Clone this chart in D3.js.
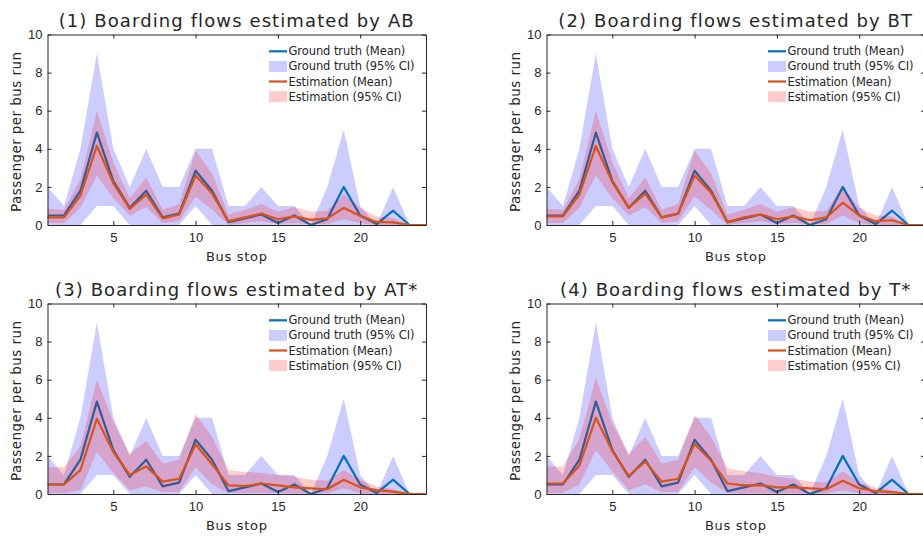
<!DOCTYPE html>
<html><head><meta charset="utf-8">
<script src="https://cdn.jsdelivr.net/npm/d3@7"></script>
<style>
body{margin:0;background:#fff;}
svg{display:block;}
text{font-family:"DejaVu Sans",sans-serif;fill:#262626;}
</style></head><body>
<svg id="chart" width="923" height="538"></svg>
<script>
// Bus stops 1..24
const stops = d3.range(1, 25);
const xTicks = [5, 10, 15, 20];
const yTicks = [0, 2, 4, 6, 8, 10];
const titles = [
  "(1) Boarding flows estimated by AB",
  "(2) Boarding flows estimated by BT",
  "(3) Boarding flows estimated by AT*",
  "(4) Boarding flows estimated by T*"
];
const legendLabels = ["Ground truth (Mean)", "Ground truth (95% CI)", "Estimation (Mean)", "Estimation (95% CI)"];

// Ground truth (same in every panel)
const gtMean  = [0.5,0.5,1.8,4.85,2.3,0.9,1.8,0.4,0.6,2.85,1.8,0.15,0.35,0.55,0.1,0.5,0.0,0.3,2.0,0.5,0.05,0.75,0,0];
const gtUpper = [2,1,4,9,4,2,4,2,2,4,4,1,1,2,1,1,0,2,5,1,0,2,0,0];
const gtLower = [0,0,0,1,1,0,0,0,0,1,0,0,0,0,0,0,0,0,0,0,0,0,0,0];

// (1) AB
const abMean  = [0.4,0.4,1.55,4.15,2.2,0.85,1.6,0.35,0.55,2.6,1.65,0.2,0.4,0.6,0.3,0.45,0.27,0.35,0.9,0.47,0.16,0.14,0,0];
const abUpper = [0.85,0.8,2.4,6.0,3.3,1.4,2.5,0.8,1.1,3.9,2.7,0.55,0.8,1.1,0.7,0.95,0.7,0.75,1.6,0.9,0.45,0.35,0,0];
const abLower = [0.1,0.1,0.9,2.6,1.4,0.5,0.95,0.1,0.2,1.5,0.8,0,0.1,0.2,0.05,0.1,0.05,0.05,0.3,0.1,0,0,0,0];
// (2) BT
const btMean  = [0.45,0.45,1.6,4.15,2.25,0.9,1.65,0.4,0.6,2.6,1.7,0.15,0.4,0.55,0.3,0.45,0.25,0.4,1.17,0.5,0.2,0.25,0,0];
const btUpper = [0.85,0.8,2.4,6.0,3.3,1.4,2.5,0.8,1.1,3.9,2.7,0.55,0.8,1.1,0.7,0.95,0.7,0.75,2.0,0.9,0.5,0.45,0,0];
const btLower = [0.1,0.1,0.9,2.6,1.4,0.5,0.95,0.1,0.2,1.5,0.8,0,0.1,0.2,0.05,0.1,0.05,0.05,0.5,0.1,0,0,0,0];
// (3) AT*
const atMean  = [0.5,0.5,1.25,3.95,2.2,1.0,1.45,0.65,0.8,2.6,1.56,0.45,0.42,0.55,0.45,0.35,0.3,0.25,0.75,0.35,0.2,0.12,0,0];
const atUpper = [1.4,1.4,2.5,6.0,3.8,2.1,2.8,1.6,1.8,4.2,3.0,1.25,1.17,1.1,1.0,0.9,0.75,0.7,1.26,0.75,0.4,0.25,0,0];
const atLower = [0.05,0.05,0.2,2.2,1.1,0.2,0.4,0.1,0.1,1.4,0.5,0.05,0.05,0.05,0.05,0.02,0.02,0.02,0.3,0.02,0,0,0,0];
// (4) T*
const tMean   = [0.55,0.55,1.5,4.0,2.25,0.95,1.7,0.65,0.8,2.62,1.75,0.55,0.45,0.47,0.35,0.35,0.3,0.25,0.7,0.3,0.15,0.1,0,0];
const tUpper  = [1.45,1.45,2.9,6.1,3.7,2.1,3.0,1.6,1.8,4.15,3.0,1.35,1.2,1.1,0.9,0.8,0.65,0.6,1.2,0.6,0.35,0.2,0,0];
const tLower  = [0.05,0.05,0.5,2.3,1.2,0.2,0.5,0.1,0.1,1.4,0.6,0.05,0.02,0.02,0.02,0.02,0.02,0.02,0.2,0.02,0,0,0,0];

const estimates = [
  {mean: abMean, upper: abUpper, lower: abLower},
  {mean: btMean, upper: btUpper, lower: btLower},
  {mean: atMean, upper: atUpper, lower: atLower},
  {mean: tMean,  upper: tUpper,  lower: tLower}
];

const C = {blue: "#0072BD", red: "#D95319", blueFill: "rgba(0,0,255,0.2)", redFill: "rgba(255,0,0,0.2)", axis: "#262626"};
const panelPos = [[47.5, 34.5], [546.5, 34.5], [47.5, 303.5], [546.5, 303.5]];
const W = 378.5, H = 190.5;

const svg = d3.select("#chart");
const x = d3.scaleLinear().domain([1, 24]).range([0, W]);
const y = d3.scaleLinear().domain([0, 10]).range([H, 0]);

// letter-spacing needed so that a sample string at a given font reaches a target width
function spacingFor(sample, size, target) {
  const t = svg.append("text").style("font-size", size + "px").text(sample);
  const w = t.node().getComputedTextLength();
  t.remove();
  return (target - w) / (sample.length - 1);
}
const titleLS = spacingFor(titles[0], 18, 355);
const legendLS = spacingFor(legendLabels[1], 11.5, 126);
const xlabLS = spacingFor("Bus stop", 13, 61);
const ylabLS = spacingFor("Passenger per bus run", 13.5, 160);

estimates.forEach((est, i) => {
  const [px, py] = panelPos[i];
  const g = svg.append("g").attr("transform", `translate(${px},${py})`);
  const clipId = "clip" + i;
  g.append("clipPath").attr("id", clipId).append("rect").attr("width", W).attr("height", H);
  const plot = g.append("g").attr("clip-path", `url(#${clipId})`);

  const area = (up, lo) => d3.area().x((d, k) => x(stops[k])).y0((d, k) => y(lo[k])).y1((d, k) => y(up[k]));
  const line = arr => d3.line().x((d, k) => x(stops[k])).y((d, k) => y(arr[k]));

  plot.append("path").attr("d", area(gtUpper, gtLower)(stops)).attr("fill", C.blueFill);
  plot.append("path").attr("d", line(gtMean)(stops)).attr("fill", "none").attr("stroke", C.blue).attr("stroke-width", 2.2).attr("stroke-linejoin", "round");
  plot.append("path").attr("d", area(est.upper, est.lower)(stops)).attr("fill", C.redFill);
  plot.append("path").attr("d", line(est.mean)(stops)).attr("fill", "none").attr("stroke", C.red).attr("stroke-width", 2.2).attr("stroke-linejoin", "round");

  // axes (box with inward ticks)
  const ax = g.append("g").attr("transform", `translate(0,${H})`)
    .call(d3.axisBottom(x).tickValues(xTicks).tickSize(-4).tickSizeOuter(0).tickPadding(8));
  const ay = g.append("g").call(d3.axisLeft(y).tickValues(yTicks).tickSize(-4).tickSizeOuter(0).tickPadding(5));
  const axT = g.append("g").call(d3.axisTop(x).tickValues(xTicks).tickSize(-4).tickSizeOuter(0).tickFormat(""));
  const ayR = g.append("g").attr("transform", `translate(${W},0)`).call(d3.axisRight(y).tickValues(yTicks).tickSize(-4).tickSizeOuter(0).tickFormat(""));
  [ax, ay, axT, ayR].forEach(a => {
    a.selectAll("path").attr("stroke", C.axis);
    a.selectAll("line").attr("stroke", C.axis);
    a.selectAll("text").attr("fill", C.axis).style("font-size", "13px").style("font-family", "'Liberation Sans', Arial, sans-serif");
  });

  g.append("text").attr("x", W / 2).attr("y", -8).attr("text-anchor", "middle")
    .style("font-size", "18px").style("letter-spacing", titleLS + "px").text(titles[i]);
  g.append("text").attr("x", W / 2).attr("y", H + 35.5).attr("text-anchor", "middle")
    .style("font-size", "13px").style("letter-spacing", xlabLS + "px").text("Bus stop");
  g.append("text").attr("transform", `translate(-26.5,${H / 2 + 2}) rotate(-90)`).attr("text-anchor", "middle")
    .style("font-size", "13.5px").style("letter-spacing", ylabLS + "px").text("Passenger per bus run");

  // legend
  const lg = g.append("g").attr("transform", "translate(221.5,16.8)");
  const rows = [
    {type: "line", color: C.blue}, {type: "patch", color: C.blueFill},
    {type: "line", color: C.red}, {type: "patch", color: C.redFill}
  ];
  rows.forEach((r, k) => {
    const ry = k * 15.1;
    if (r.type === "line") {
      lg.append("line").attr("x1", 0).attr("x2", 18).attr("y1", ry).attr("y2", ry).attr("stroke", r.color).attr("stroke-width", 2.2);
    } else {
      lg.append("rect").attr("x", 0).attr("y", ry - 5.5).attr("width", 18).attr("height", 11).attr("fill", r.color);
    }
    lg.append("text").attr("x", 19.5).attr("y", ry).attr("dy", "0.35em").style("font-size", "11.5px")
      .style("letter-spacing", legendLS + "px").text(legendLabels[k]);
  });
});
</script>
</body></html>
